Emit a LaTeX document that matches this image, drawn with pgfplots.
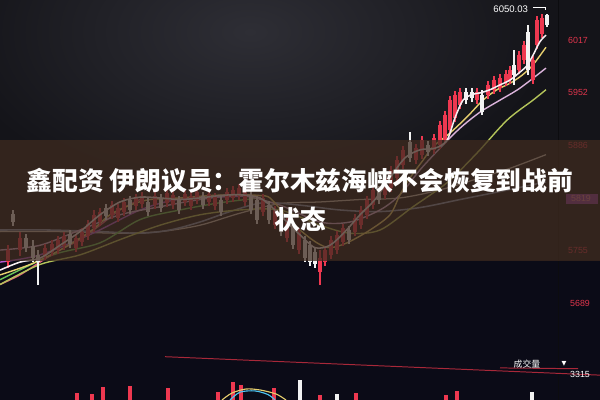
\documentclass[border=0pt]{standalone}
\usepackage{pgfplots}
\pgfplotsset{compat=1.18}
\usepackage{pgfplotstable}
\usepackage{fontspec}
\setmainfont{Liberation Sans}
\newfontfamily\cjk{Noto Sans CJK SC}
\newfontfamily\dejavu{DejaVu Sans}

\definecolor{bgc}{HTML}{141419}
\definecolor{glow}{HTML}{2E2E35}
\definecolor{navy}{HTML}{0B0B17}
\definecolor{bandc}{HTML}{3E2A1F}
\definecolor{cred}{HTML}{EE3850}
\definecolor{cwhite}{HTML}{F2F2F2}
\definecolor{maA}{HTML}{F6EEF2}
\definecolor{maB}{HTML}{E6CF6E}
\definecolor{maC}{HTML}{DCB4DC}
\definecolor{maD}{HTML}{B4C45A}
\definecolor{maE}{HTML}{C8BFB4}
\definecolor{maF}{HTML}{8A9AB4}
\definecolor{maG}{HTML}{B45AD2}
\definecolor{maH}{HTML}{6CC45A}
\definecolor{maI}{HTML}{E0607A}
\definecolor{lblred}{HTML}{E0354C}
\definecolor{pbox}{HTML}{8C3C9E}

% red candles: x, wick low, wick high, body low, body high
\pgfplotstableread{
x lo hi bl bh
8 5733 5761 5740 5755
20 5748 5778 5755 5770
45 5743 5763 5748 5758
52 5748 5768 5753 5763
58 5750 5773 5755 5768
64 5755 5778 5760 5773
76 5753 5775 5758 5770
82 5760 5783 5765 5778
88 5768 5793 5773 5788
94 5778 5805 5783 5799
100 5785 5808 5790 5803
112 5794 5816 5799 5811
118 5790 5813 5795 5808
124 5798 5820 5803 5815
136 5805 5825 5810 5820
142 5808 5828 5813 5823
155 5806 5828 5811 5823
167 5809 5831 5814 5826
173 5806 5829 5811 5824
185 5810 5830 5815 5825
191 5805 5828 5810 5823
197 5813 5833 5818 5828
209 5810 5830 5815 5825
215 5805 5826 5810 5821
227 5813 5833 5818 5828
233 5815 5835 5820 5830
239 5818 5838 5823 5833
245 5810 5833 5815 5828
263 5798 5825 5803 5820
275 5781 5810 5786 5805
287 5765 5795 5770 5790
299 5750 5783 5755 5778
320 5712 5755 5728 5745
325 5735 5760 5740 5755
331 5744 5773 5749 5768
337 5750 5779 5755 5774
343 5760 5788 5765 5783
355 5773 5800 5778 5795
361 5781 5810 5786 5805
367 5794 5823 5799 5818
373 5806 5835 5811 5830
385 5819 5850 5824 5845
391 5828 5860 5833 5855
397 5840 5872 5845 5867
403 5856 5885 5861 5880
416 5862 5887 5867 5882
422 5869 5897 5874 5892
434 5875 5900 5880 5895
440 5881 5916 5886 5911
445 5887 5929 5892 5924
450 5900 5947 5905 5942
455 5915 5954 5920 5949
460 5931 5957 5936 5952
477 5937 5957 5942 5952
488 5944 5966 5949 5961
494 5950 5972 5955 5967
500 5952 5975 5957 5970
506 5960 5980 5965 5975
510 5962 5985 5967 5980
519 5975 6003 5980 5998
524 5987 6016 5992 6011
533 5962 5997 5967 5992
537 6006 6047 6011 6042
542 6020 6050 6025 6045
}\redc

% white candles
\pgfplotstableread{
x lo hi bl bh
13 5785 5805 5790 5800
26 5753 5775 5758 5770
33 5740 5768 5745 5760
38 5712 5755 5740 5749
70 5758 5780 5763 5775
106 5793 5813 5798 5808
130 5800 5823 5805 5818
148 5798 5820 5803 5815
161 5803 5825 5808 5820
179 5800 5823 5805 5818
203 5806 5828 5811 5823
221 5798 5823 5803 5818
251 5800 5829 5805 5824
257 5788 5823 5793 5818
269 5788 5816 5793 5811
281 5773 5804 5778 5799
293 5756 5791 5761 5786
305 5740 5773 5745 5768
310 5735 5766 5740 5761
315 5732 5758 5737 5753
349 5763 5785 5768 5780
379 5813 5835 5818 5830
410 5865 5902 5870 5890
428 5872 5891 5877 5886
466 5937 5957 5942 5952
472 5940 5957 5945 5952
482 5924 5955 5927 5949
514 5961 6005 5973 5986
528 5973 6036 5980 6027
547 6033 6050 6036 6048
}\whitec

% volume bars
\pgfplotstableread{
x v
77 1160
92 995
103 2155
130 2320
168 1990
218 1325
233 2985
241 2485
274 1990
320 830
356 1160
446 830
457 1490
}\volred
\pgfplotstableread{
x v
300 3315
337 995
532 1325
}\volwhite

\begin{document}
\begin{tikzpicture}
\useasboundingbox (0,0) rectangle (15,10);
\clip (0,0) rectangle (15,10);
\fill[bgc] (0,0) rectangle (15,10);
\shade[inner color=glow, outer color=bgc] (6.25,9.2) ellipse (7.5 and 4.2);
\fill[navy] (0,0) rectangle (15,3.5);
\draw[black!40!bgc, line width=0.5pt] (13.95,0) -- (13.95,10);

\begin{axis}[at={(0,0)}, anchor=south west, scale only axis,
  width=15cm, height=10cm, xmin=0, xmax=600, ymin=5568, ymax=6066.9,
  hide axis, clip=true]

% moving averages
\addplot[maE, line width=0.9pt, smooth] coordinates {(0,5778) (60,5778) (120,5776) (160,5778) (200,5786) (240,5801) (280,5813) (320,5815) (360,5818) (400,5820) (440,5830) (480,5845) (510,5857) (546,5874)};
\addplot[maF, line width=1.1pt, smooth] coordinates {(0,5780) (50,5780) (100,5778) (140,5776) (170,5780) (200,5790) (230,5803) (263,5814) (300,5811) (340,5805) (380,5803) (420,5808) (460,5818) (500,5828) (546,5840)};
\addplot[maG, line width=1.0pt, smooth] coordinates {(0,5740) (40,5749) (93,5776) (140,5805) (177,5818) (220,5821) (260,5823)};
\addplot[maH, line width=1.0pt, smooth] coordinates {(0,5718) (53,5749) (100,5764) (140,5793) (180,5805) (220,5814) (260,5820)};
\addplot[maI, line width=1.0pt, smooth] coordinates {(0,5712) (20,5724) (40,5740) (60,5755) (80,5768) (100,5786) (120,5805) (140,5818)};
\addplot[maD, line width=1.0pt, smooth] coordinates {(0,5712) (40,5737) (80,5749) (120,5768) (160,5786) (200,5799) (240,5805) (280,5805) (320,5786) (350,5776) (380,5780) (413,5809) (447,5839) (477,5876) (507,5917) (533,5942) (546,5955)};
\addplot[maC, line width=1.0pt, smooth] coordinates {(0,5755) (40,5761) (80,5780) (120,5799) (160,5809) (200,5818) (240,5823) (280,5811) (320,5790) (350,5790) (380,5805) (400,5824) (420,5855) (440,5882) (460,5907) (480,5927) (500,5942) (520,5957) (546,5982)};
\addplot[maB, line width=1.0pt, smooth] coordinates {(0,5724) (30,5737) (60,5755) (90,5778) (110,5799) (130,5811) (150,5818) (180,5820) (210,5823) (240,5824) (260,5823) (270,5820) (285,5799) (300,5780) (317,5764) (330,5758) (347,5764) (370,5780) (390,5799) (400,5824) (410,5845) (423,5867) (433,5884) (450,5901) (467,5921) (483,5942) (497,5955) (510,5963) (522,5973) (533,5986) (546,6008)};

% candles: wicks and bodies
\addplot[draw=none, mark=none, forget plot, error bars/.cd, y dir=both, y explicit, error mark=none,
  error bar style={draw=cred, line width=0.8pt}]
  table[x=x, y expr={(\thisrow{lo}+\thisrow{hi})/2}, y error expr={(\thisrow{hi}-\thisrow{lo})/2}] {\redc};
\addplot[draw=none, mark=none, forget plot, error bars/.cd, y dir=both, y explicit, error mark=none,
  error bar style={draw=cred, line width=2.8pt}]
  table[x=x, y expr={(\thisrow{bl}+\thisrow{bh})/2}, y error expr={(\thisrow{bh}-\thisrow{bl})/2}] {\redc};
\addplot[draw=none, mark=none, forget plot, error bars/.cd, y dir=both, y explicit, error mark=none,
  error bar style={draw=cwhite, line width=0.8pt}]
  table[x=x, y expr={(\thisrow{lo}+\thisrow{hi})/2}, y error expr={(\thisrow{hi}-\thisrow{lo})/2}] {\whitec};
\addplot[draw=none, mark=none, forget plot, error bars/.cd, y dir=both, y explicit, error mark=none,
  error bar style={draw=cwhite, line width=2.8pt}]
  table[x=x, y expr={(\thisrow{bl}+\thisrow{bh})/2}, y error expr={(\thisrow{bh}-\thisrow{bl})/2}] {\whitec};

% MA5 on top
\addplot[maA, line width=1.1pt, smooth] coordinates {(0,5730) (20,5740) (40,5745) (60,5761) (80,5778) (100,5799) (120,5815) (140,5821) (160,5820) (180,5818) (200,5820) (220,5823) (240,5824) (260,5820) (275,5805) (290,5786) (300,5774) (315,5758) (330,5761) (345,5778) (360,5799) (375,5818) (390,5845) (405,5870) (420,5880) (435,5882) (447,5892) (455,5920) (463,5942) (472,5949) (480,5951) (490,5955) (500,5961) (510,5967) (520,5977) (527,5985) (533,5998) (540,6015) (546,6023)};

% high marker line
\addplot[white, line width=0.6pt] coordinates {(533,6058) (545,6058) (545,6054)};
\node[white, font=\fontsize{6.8}{7}\selectfont, anchor=east] at (axis cs:533,6055) {6050.03};

% bottom separator lines
\addplot[lblred!75!black, line width=0.7pt] coordinates {(165,5622) (600,5599)};
\addplot[lblred!75!black, line width=0.7pt] coordinates {(500,5608) (578,5607)};

% right price labels
\fill[pbox] (axis cs:566,5825) rectangle (axis cs:598,5813);
\node[lblred, font=\fontsize{6.3}{7}\selectfont] at (axis cs:578,6017) {6017};
\node[lblred, font=\fontsize{6.3}{7}\selectfont] at (axis cs:578,5952) {5952};
\node[lblred, font=\fontsize{6.3}{7}\selectfont] at (axis cs:578,5886) {5886};
\node[lblred!60!white, font=\fontsize{6.3}{7}\selectfont] at (axis cs:581,5819) {5819};
\node[lblred, font=\fontsize{6.3}{7}\selectfont] at (axis cs:578,5755) {5755};
\node[lblred, font=\fontsize{6.3}{7}\selectfont] at (axis cs:580,5689) {5689};

\node[white, font=\cjk\fontsize{6.3}{7}\selectfont] at (axis cs:527,5613) {成交量};
\node[white, font=\dejavu\fontsize{4.5}{5}\selectfont] at (axis cs:564,5613) {▼};
\node[white, font=\fontsize{6.3}{7}\selectfont] at (axis cs:580,5600) {3315};
\end{axis}

\begin{axis}[at={(0,0)}, anchor=south west, scale only axis,
  width=15cm, height=10cm, xmin=0, xmax=600, ymin=0, ymax=66300,
  hide axis, clip=true]
\addplot[ycomb, cred, line width=2.3pt, mark=none] table[x=x, y=v] {\volred};
\addplot[ycomb, cwhite, line width=2.3pt, mark=none] table[x=x, y=v] {\volwhite};
\addplot[maB, line width=0.8pt, smooth] coordinates {(222,0) (232,1160) (246,1820) (260,1660) (276,995) (286,0)};
\addplot[cyan!70!white, line width=0.8pt, smooth] coordinates {(230,0) (240,1300) (255,1500) (268,900) (275,0)};
\end{axis}

\fill[bandc, opacity=0.74] (0,3.475) rectangle (15,6.5);
\node[text=white, font=\cjk\bfseries\fontsize{18.3}{20}\selectfont] at (7.5,5.475) {鑫配资 伊朗议员：霍尔木兹海峡不会恢复到战前};
\node[text=white, font=\cjk\bfseries\fontsize{18.3}{20}\selectfont] at (7.5,4.5) {状态};
\end{tikzpicture}
\end{document}
